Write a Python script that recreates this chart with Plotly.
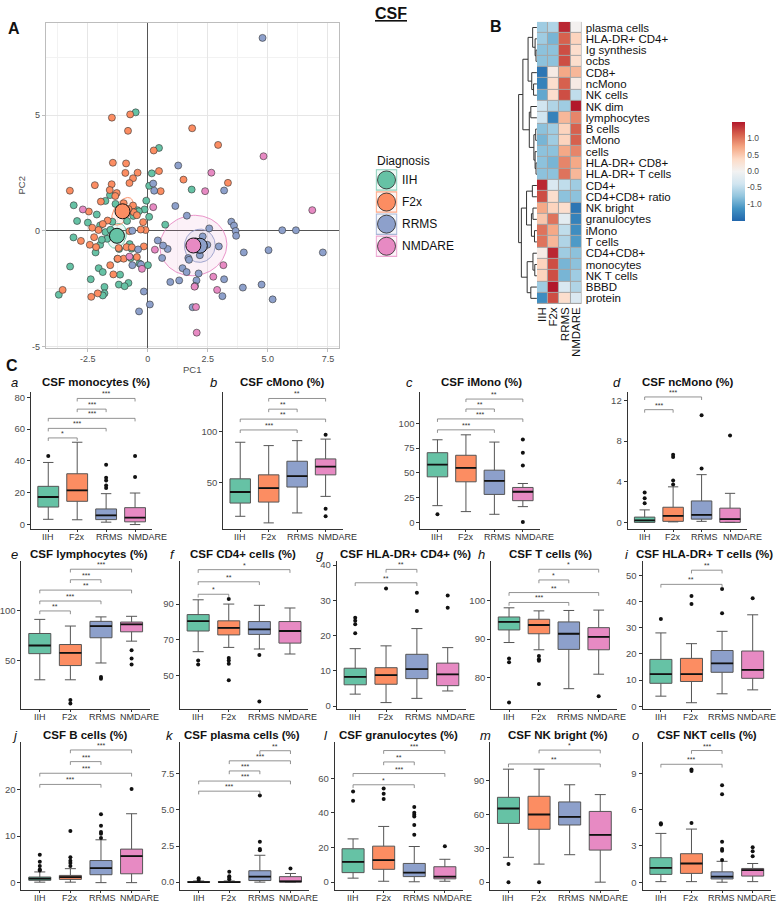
import numpy as np
import plotly.graph_objects as go

W, H = 778, 906
FONT = "Liberation Sans, Arial, Helvetica, sans-serif"

GROUPS = ["IIH", "F2x", "RRMS", "NMDARE"]
COLORS = ["#66C2A5", "#FC8D62", "#8DA0CB", "#E78AC3"]

# ---------------- Panel A: PCA scores ----------------
iih_pc1 = [-0.5, 0.47, 0.17, 0.06, 1.83, -1.57, -1.76, -1.34, -3.08, -2.12, -0.06, -0.13, -0.43, -0.53,
           0.06, 0.73, -2.94, -2.49, -1.98, -1.47, -0.86, -1.76, -1.69, -1.98, -1.91, -2.17, -3.09, -1.19,
           -1.26, -0.75, -0.67, -0.71, -0.34, 0.01, -3.23, -2.04, -1.87, -2.37, -1.15, -0.8, -1.2, -0.96,
           -1.8, -1.8, -1.87, -3.7, -1.4, -1.55, -0.6, -0.37]
iih_pc2 = [5.13, 3.59, 2.49, 1.95, 1.79, 1.55, 1.3, 1.17, 1.11, 0.71, 1.31, 0.93, 0.9, 0.75,
           0.61, 0.27, 0.43, 0.36, 0.24, 0.4, 0.43, -0.05, -0.34, -0.6, -0.38, -0.93, -0.28, -0.78,
           -1.21, -0.57, -0.77, -1.17, -1.41, -1.48, -1.54, -1.61, -1.78, -2.09, -1.89, -2.25, -2.32, -2.39,
           -2.42, -2.7, -2.79, -2.76, -0.2, 0.05, 0.65, 0.85]
f2x_pc1 = [-1.49, -0.73, -0.82, 1.85, 2.93, 0.25, 0.47, -1.45, -0.9, -0.93, -0.42, -0.61, -0.76, 1.49,
           3.34, 0.54, -2.2, -1.5, -3.24, -1.58, -1.29, -1.35, -1.95, -2.45, -0.61, -0.58, -0.91, -0.19,
           -0.09, -0.29, -0.45, -1.67, -1.87, -2.05, -2.31, -2.78, -2.23, -2.41, -2.15, -1.21, -0.88, -0.66,
           -0.16, -1.56, -1.43, -1.0, -1.25, -0.45, -3.54, -2.35, -2.08, -0.76, -1.0, -0.8]
f2x_pc2 = [4.9, 5.04, 4.33, 4.44, 3.72, 3.48, 2.59, 2.95, 2.92, 2.51, 2.52, 2.28, 2.07, 2.22,
           2.08, 1.72, 1.98, 2.02, 1.74, 1.77, 1.64, 1.51, 1.27, 0.84, 1.1, 0.81, 0.75, 0.38,
           0.04, 0.06, 0.68, 0.45, 0.3, 0.04, 0.14, -0.43, -0.27, -0.6, -0.7, -0.74, -0.7, -0.71,
           -0.67, -1.48, -1.88, -1.2, -1.2, -1.13, -2.55, -2.85, -2.7, -0.01, 1.2, 0.95]
rrms_pc1 = [4.78, 1.27, 0.23, 0.27, 3.18, 1.15, 1.63, 2.56, 3.48, 3.59, 3.66, 3.68, 5.6, 6.17,
            7.29, 5.03, 4.0, 2.96, 2.29, 2.48, 2.17, 1.69, 1.72, 0.6, 0.83, 0.64, 0.42, -0.64,
            -0.4, -0.64, -0.28, 1.45, 1.62, 2.12, 2.03, 1.97, 1.31, 0.94, 3.18, 3.11, 3.96, 4.74,
            5.2, -0.16, 0.09, -0.36, 1.87, 2.0]
rrms_pc2 = [8.35, 2.83, 2.05, 1.74, 1.75, 1.08, 0.66, 0.11, 0.4, 0.23, 0.0, -0.21, 0.03, 0.03,
            -0.93, -0.83, -0.93, -0.67, -0.24, -0.6, -1.05, -1.17, -1.25, -1.17, -0.78, -0.63, -0.41, 0.01,
            -0.8, -1.48, -1.45, -1.61, -1.78, -1.84, -2.14, -2.38, -2.14, -2.21, -2.09, -2.82, -2.45, -2.32,
            -2.96, -2.62, -3.18, -3.48, -3.3, -0.45]
nmdare_pc1 = [4.82, 2.65, 2.39, 6.85, 0.23, -2.7, 0.3, -0.76, -0.24, 3.15, 2.73, 2.89, 1.95, 2.01, 2.04]
nmdare_pc2 = [3.23, 2.52, 1.72, 0.9, 1.03, 0.93, -0.81, -1.11, -1.64, -1.48, -1.98, -2.55, -2.41, -3.29, -4.4]

pc_mean_x = [-1.28, -1.05, 2.17, 1.90]
pc_mean_y = [-0.21, 0.85, -0.64, -0.63]
ell_major = [0.55, 0.66, 0.72, 1.40]
ell_minor = [0.38, 0.35, 0.64, 1.30]
ell_angle = [75, 60, 85, 15]

# ---------------- Panel B: heatmap ----------------
heat_rows = ["plasma cells", "HLA-DR+ CD4+", "Ig synthesis", "ocbs", "CD8+", "ncMono", "NK cells",
             "NK dim", "lymphocytes", "B cells", "cMono", "cells", "HLA-DR+ CD8+", "HLA-DR+ T cells",
             "CD4+", "CD4+CD8+ ratio", "NK bright", "granulocytes", "iMono", "T cells", "CD4+CD8+",
             "monocytes", "NK T cells", "BBBD", "protein"]
heat_iih = [-0.7, -0.7, -0.8, -0.8, -1.4, -1.3, -1.0, -0.4, -0.4, -0.8, -0.9, -0.8, -0.8, -0.8,
            1.4, 1.2, 0.7, 0.5, 1.0, 1.0, 0.1, 0.4, 0.4, -0.7, -1.2]
heat_f2x = [-0.6, -0.9, -0.8, -0.8, 0.1, 0.3, 0.3, -0.6, -1.3, -0.7, -0.7, -0.8, -0.9, -0.8,
            -0.3, 0.3, 0.4, 1.0, 0.7, 0.6, 1.4, 1.2, 1.2, 1.5, 1.2]
heat_rrms = [1.4, 1.1, 1.2, 1.2, 0.7, 1.1, 1.2, -0.7, 0.6, 0.4, 0.4, 0.7, 0.9, 1.0,
             -0.5, -0.8, 0.3, -0.2, -0.5, -0.6, -0.7, -0.9, -0.9, -0.3, 0.3]
heat_nmdare = [0.0, 0.4, 0.3, 0.3, 0.6, 0.1, -0.5, 1.5, 0.9, 1.1, 1.1, 0.9, 0.7, 0.6,
               -0.7, -0.8, -1.4, -1.3, -1.2, -1.1, -0.8, -0.8, -0.7, -0.6, -0.3]
# row clustering: (left, right, height), leaves are row indices
dendro_tree = (
    (((0, (1, (2, 3, 0.3), 0.6), 1.4), (4, (5, 6, 1.1), 1.7), 2.9),
     ((7, 8, 2.0), ((9, 10, 0.4), (11, (12, 13, 0.3), 0.6), 1.0), 2.5), 4.6),
    (((14, 15, 1.5), ((16, 17, 1.3), (18, 19, 0.8), 1.8), 3.4),
     ((20, (21, 22, 0.7), 1.3), (23, 24, 2.0), 3.2), 5.1),
    6.0)

# ---------------- Panel C: box plot summaries ----------------
monocytes = dict(lo=[3.3, 3.0, 1.5, 0.0], q1=[11.0, 14.6, 3.1, 1.7], med=[17.3, 21.5, 5.8, 4.4],
                 q3=[24.0, 31.9, 9.8, 10.6], hi=[39.0, 51.7, 19.4, 19.8],
                 out=[[43.0], [], [37.5, 29.4, 27.7, 24.6, 23.0], [43.0, 29.8]],
                 sig=[("IIH", "F2x", 54.4, "*"), ("IIH", "RRMS", 60.4, "***"), ("IIH", "NMDARE", 66.7, "***"),
                      ("F2x", "RRMS", 72.5, "***"), ("F2x", "NMDARE", 79.2, "***")])
cmono = dict(lo=[17, 10.5, 20.3, 36.6], q1=[30, 31, 45.8, 57.8], med=[40.9, 44.8, 56.5, 66],
             q3=[53.9, 57.8, 71.2, 73.5], hi=[89.9, 86.6, 91.5, 93],
             out=[[], [], [], [97.4, 24.5, 17]],
             sig=[("IIH", "RRMS", 102, "***"), ("IIH", "NMDARE", 112.7, "**"),
                  ("F2x", "RRMS", 122.5, "**"), ("F2x", "NMDARE", 133, "**")])
imono = dict(lo=[17, 11, 8.3, 16], q1=[46, 41, 28.3, 22], med=[58.3, 55, 42, 31],
             q3=[70.3, 67.7, 52.7, 35.3], hi=[83.3, 88.3, 81, 39.3],
             out=[[8.3], [], [], [83.6, 70.3, 57.3, 0.5]],
             sig=[("IIH", "RRMS", 93.3, "***"), ("IIH", "NMDARE", 104.3, "***"),
                  ("F2x", "RRMS", 114.3, "**"), ("F2x", "NMDARE", 124.3, "**")])
ncmono = dict(lo=[0, 0.05, 0.1, 0], q1=[0, 0.1, 0.32, 0], med=[0.2, 0.65, 0.74, 0.33],
              q3=[0.52, 1.49, 2.11, 1.4], hi=[1.23, 3.5, 4.7, 2.86],
              out=[[2.95, 2.37, 1.88], [6.66, 6.44, 4.13, 3.74], [10.56, 5.3], [8.55]],
              sig=[("IIH", "F2x", 11.1, "***"), ("IIH", "RRMS", 12.35, "***")])
lymphocytes = dict(lo=[30.7, 30.7, 47.6, 69.6], q1=[57, 45, 73, 79], med=[65.2, 57.8, 84.8, 86.5],
                   q3=[77.3, 66.2, 89.5, 88.8], hi=[91.5, 84.8, 94, 94.6],
                   out=[[], [10.4, 6.8], [33.4, 31.8], [60.5, 52, 46]],
                   sig=[("IIH", "F2x", 100, "**"), ("IIH", "RRMS", 110, "***"), ("IIH", "NMDARE", 121, "**"),
                        ("F2x", "RRMS", 131.4, "***"), ("F2x", "NMDARE", 142, "***")])
cd4 = dict(lo=[63.3, 65.7, 64.8, 62], q1=[74.9, 72.7, 73, 68.1], med=[80.4, 76.6, 75.8, 74.9],
           q3=[84.1, 80.6, 80.2, 80.2], hi=[92.4, 90, 89.3, 87.8],
           out=[[58.3, 56.1], [92.8, 59.8, 58.3, 56.5, 47.3], [61.4, 35.3], []],
           sig=[("IIH", "F2x", 95.5, "*"), ("IIH", "RRMS", 102.5, "**"), ("IIH", "NMDARE", 109.3, "*")])
hladr_cd4 = dict(lo=[3.4, 1, 2.2, 4.3], q1=[6.05, 6.2, 7.8, 5.8], med=[8.3, 8.8, 10.5, 9],
                 q3=[10.75, 10.9, 14.7, 12.2], hi=[16.3, 17.1, 22, 16.6],
                 out=[[25.1, 24.2, 23.2, 20.7], [33.4], [32.2, 27], [31.4, 27.9]],
                 sig=[("IIH", "RRMS", 35, "**"), ("F2x", "RRMS", 38.8, "**")])
tcells = dict(lo=[89.1, 87.2, 77, 80.8], q1=[92.4, 91.4, 87.3, 87.2], med=[94.5, 93.7, 91.4, 90.6],
              q3=[95.8, 95.2, 94.5, 93], hi=[98.2, 97.4, 97.5, 97.6],
              out=[[84.9, 83.9, 73.4], [85.6, 84.7, 84.3, 78.2], [], [75]],
              sig=[("IIH", "RRMS", 99.6, "***"), ("IIH", "NMDARE", 102.2, "**"),
                   ("F2x", "RRMS", 105.5, "*"), ("F2x", "NMDARE", 108.3, "*")])
hladr_t = dict(lo=[3.9, 1.4, 4.8, 6.3], q1=[8.8, 9.5, 13, 10.7], med=[12.3, 12.3, 16.4, 13.9],
               q3=[17.9, 18.3, 21.3, 21.1], hi=[28, 23.9, 28.6, 34.9],
               out=[[33.3], [42.1, 39], [44.7, 35.5], [41.2]],
               sig=[("IIH", "RRMS", 46.5, "**"), ("F2x", "RRMS", 51.9, "**")])
bcells = dict(lo=[0.1, 0.1, 0, 0], q1=[0.5, 0.7, 1.7, 1.9], med=[0.85, 1.2, 3.1, 5.7],
              q3=[1.2, 1.55, 4.75, 7.2], hi=[2.3, 3.0, 9.2, 14.8],
              out=[[6.0, 4.5, 3.6, 2.8, 2.6], [11.1, 5.45, 4.7, 4.2, 3.6], [14.7, 12.2, 10.9, 10.5, 9.6], [20.1]],
              sig=[("IIH", "RRMS", 21.1, "***"), ("IIH", "NMDARE", 23.5, "***"),
                   ("F2x", "RRMS", 26, "***"), ("F2x", "NMDARE", 28.5, "***")])
plasma = dict(lo=[0, 0, 0, 0], q1=[0, 0, 0.11, 0], med=[0, 0, 0.38, 0.05],
              q3=[0.03, 0.03, 0.79, 0.38], hi=[0.08, 0.08, 1.86, 0.6],
              out=[[0.27, 0.15], [0.72, 0.4, 0.3, 0.2], [6.0, 2.8, 2.3, 2.2], [0.95]],
              sig=[("IIH", "RRMS", 6.3, "***"), ("IIH", "NMDARE", 7.0, "***"), ("F2x", "RRMS", 7.7, "***"),
                   ("F2x", "NMDARE", 8.4, "***"), ("RRMS", "NMDARE", 9.1, "**")])
granulocytes = dict(lo=[2.3, 0.5, 0.2, 0.5], q1=[5.5, 7.4, 3.2, 1.9], med=[11.7, 12.7, 5.5, 3.2],
                    q3=[19.3, 20.8, 10.8, 8.9], hi=[25, 32.2, 20.6, 13.2],
                    out=[[52.4, 47.1], [54.1, 51.1, 48.1], [43.4, 40.1, 39, 37.9, 33.1, 27.4], [20.8]],
                    sig=[("IIH", "RRMS", 56.3, "*"), ("IIH", "NMDARE", 62.8, "***"),
                         ("F2x", "RRMS", 69.5, "**"), ("F2x", "NMDARE", 76.1, "***")])
nk_bright = dict(lo=[22, 16, 24.3, 0], q1=[52, 46.8, 50.6, 28.4], med=[65.2, 59.9, 57.8, 41.8],
                 q3=[75.1, 76, 71, 62.6], hi=[100, 100, 86.2, 77.5],
                 out=[[16.1, 0], [0], [], []],
                 sig=[("IIH", "NMDARE", 104.6, "**"), ("F2x", "NMDARE", 116.9, "*")])
nkt = dict(lo=[0.05, 0.05, 0, 0.05], q1=[0.65, 0.73, 0.27, 0.51], med=[1.19, 1.55, 0.46, 1.0],
           q3=[2.03, 2.36, 0.86, 1.14], hi=[4.04, 4.4, 1.73, 1.55],
           out=[[4.88, 4.78], [9.33, 9.2, 4.9], [8.03, 7.29, 3.36, 2.76, 2.6, 1.85], [2.9, 2.57, 2.16]],
           sig=[("IIH", "RRMS", 9.76, "***"), ("F2x", "RRMS", 10.9, "***")])


def rgba(hexc, a):
    h = hexc.lstrip("#")
    return f"rgba({int(h[0:2], 16)},{int(h[2:4], 16)},{int(h[4:6], 16)},{a})"


def axis_names(n):
    if n == 1:
        return "xaxis", "yaxis", "x", "y"
    return f"xaxis{n}", f"yaxis{n}", f"x{n}", f"y{n}"


traces = []
annotations = []
shapes = []
layout = dict(
    width=W, height=H,
    margin=dict(l=0, r=0, t=0, b=0),
    paper_bgcolor="white",
    plot_bgcolor="white",
    showlegend=False,
    font=dict(family=FONT, color="#222"),
)


def set_axes(n, xpx, ypx, xkw, ykw):
    xa, ya, xr, yr = axis_names(n)
    layout[xa] = dict(domain=[xpx[0] / W, xpx[1] / W], anchor=yr, **xkw)
    layout[ya] = dict(domain=[1 - ypx[1] / H, 1 - ypx[0] / H], anchor=xr, **ykw)
    return xr, yr


def text(x, y, s, size, **kw):
    annotations.append(dict(x=x / W, y=1 - y / H, xref="paper", yref="paper", text=s,
                            showarrow=False, font=dict(size=size, family=FONT, color=kw.pop("color", "#111")),
                            **kw))


# ---------------- Panel A ----------------
xr, yr = set_axes(
    1, (43, 337), (21, 348),
    dict(range=[-4.24, 7.95], tickvals=[-2.5, 0, 2.5, 5, 7.5], ticktext=["-2.5", "0", "2.5", "5.0", "7.5"],
         showgrid=True, gridcolor="#E6E6E6", gridwidth=0.8,
         minor=dict(dtick=1.25, tick0=0, showgrid=True, gridcolor="#F2F2F2", gridwidth=0.6),
         zeroline=True, zerolinecolor="#555", zerolinewidth=1,
         showline=True, mirror=True, linecolor="#BDBDBD", linewidth=1,
         ticks="outside", ticklen=3, tickcolor="#BDBDBD",
         tickfont=dict(size=9, color="#4D4D4D"),
         title=dict(text="PC1", font=dict(size=9.5, color="#4D4D4D"), standoff=0)),
    dict(range=[-5.05, 9.0], tickvals=[-5, 0, 5], ticktext=["-5", "0", "5"],
         showgrid=True, gridcolor="#E6E6E6", gridwidth=0.8,
         minor=dict(dtick=2.5, tick0=0, showgrid=True, gridcolor="#F2F2F2", gridwidth=0.6),
         zeroline=True, zerolinecolor="#555", zerolinewidth=1,
         showline=True, mirror=True, linecolor="#BDBDBD", linewidth=1,
         ticks="outside", ticklen=3, tickcolor="#BDBDBD",
         tickfont=dict(size=9, color="#4D4D4D"),
         title=dict(text="PC2", font=dict(size=9.5, color="#4D4D4D"), standoff=4)),
)

t = np.linspace(0, 2 * np.pi, 120)
for gi in range(4):
    ang = np.deg2rad(ell_angle[gi])
    a, b = ell_major[gi], ell_minor[gi]
    ex = pc_mean_x[gi] + a * np.cos(t) * np.cos(ang) - b * np.sin(t) * np.sin(ang)
    ey = pc_mean_y[gi] + a * np.cos(t) * np.sin(ang) + b * np.sin(t) * np.cos(ang)
    traces.append(go.Scatter(x=ex, y=ey, mode="lines", fill="toself",
                             fillcolor=rgba(COLORS[gi], 0.12),
                             line=dict(color=rgba(COLORS[gi], 0.9), width=1),
                             xaxis=xr, yaxis=yr, hoverinfo="skip"))

pc_points = [(iih_pc1, iih_pc2), (f2x_pc1, f2x_pc2), (rrms_pc1, rrms_pc2), (nmdare_pc1, nmdare_pc2)]
for gi, (px, py) in enumerate(pc_points):
    traces.append(go.Scatter(x=px, y=py, mode="markers", name=GROUPS[gi],
                             marker=dict(size=7, color=COLORS[gi], line=dict(color="#333", width=0.6)),
                             xaxis=xr, yaxis=yr))
for gi in range(4):
    traces.append(go.Scatter(x=[pc_mean_x[gi]], y=[pc_mean_y[gi]], mode="markers",
                             marker=dict(size=15, color=COLORS[gi], line=dict(color="#111", width=1)),
                             xaxis=xr, yaxis=yr, hoverinfo="skip"))

# legend for panel A
xr, yr = set_axes(4, (374, 396), (168, 257),
                  dict(range=[-0.5, 0.5], visible=False), dict(range=[3.5, -0.5], visible=False))
for gi in range(4):
    shapes.append(dict(type="rect", xref=xr, yref=yr, x0=-0.47, x1=0.47, y0=gi - 0.46, y1=gi + 0.46,
                       line=dict(color=rgba(COLORS[gi], 0.75), width=1.2),
                       fillcolor=rgba(COLORS[gi], 0.1), layer="below"))
    annotations.append(dict(x=0.5, y=gi, xref=xr, yref=yr, text=GROUPS[gi], showarrow=False,
                            xanchor="left", yanchor="middle", xshift=3,
                            font=dict(size=12, family=FONT, color="#111")))
traces.append(go.Scatter(x=[0, 0, 0, 0], y=[0, 1, 2, 3], mode="markers",
                         marker=dict(size=18, color=COLORS, line=dict(color="#222", width=0.8)),
                         xaxis=xr, yaxis=yr, hoverinfo="skip"))
text(373, 160, "Diagnosis", 12, xanchor="left", yanchor="middle")

# ---------------- Panel B: heatmap + dendrogram ----------------
heat_z = [list(r) for r in zip(heat_iih, heat_f2x, heat_rrms, heat_nmdare)]
xr, yr = set_axes(
    2, (536, 581), (20, 304),
    dict(range=[-0.5, 3.5], tickvals=[0, 1, 2, 3], ticktext=GROUPS, tickangle=-90,
         showgrid=False, zeroline=False, ticks="", tickfont=dict(size=11.5, color="#111")),
    dict(range=[24.5, -0.5], tickvals=list(range(25)), ticktext=heat_rows, side="right",
         showgrid=False, zeroline=False, ticks="", ticklabelstandoff=3,
         tickfont=dict(size=11.5, color="#111")),
)
shapes.append(dict(type="rect", xref=xr, yref=yr, x0=-0.5, x1=3.5, y0=-0.5, y1=24.5,
                   fillcolor="#A6A6A6", line=dict(width=0), layer="below"))
rdbu = [[0.0, "#2166AC"], [0.125, "#4393C3"], [0.25, "#92C5DE"], [0.375, "#D1E5F0"], [0.5, "#F2F2F2"],
        [0.625, "#FDDBC7"], [0.75, "#F4A582"], [0.875, "#D6604D"], [1.0, "#B2182B"]]
traces.append(go.Heatmap(
    z=heat_z, x=[0, 1, 2, 3], y=list(range(25)), colorscale=rdbu, zmin=-1.53, zmax=1.48,
    xgap=1, ygap=1, xaxis=xr, yaxis=yr, hoverinfo="skip",
    colorbar=dict(x=722 / W, xanchor="left", y=1 - 171 / H, yanchor="middle", len=120 / H,
                  lenmode="fraction", thickness=13, outlinewidth=0, ticks="",
                  tickvals=[-1, -0.5, 0, 0.5, 1], ticktext=["-1.0", "-0.5", "0.0", "0.5", "1.0"],
                  tickfont=dict(size=8.5, color="#4D4D4D")),
))

dx, dy = [], []


def walk(node):
    if isinstance(node, int):
        return float(node), 0.0
    left, right, h = node
    yl, hl = walk(left)
    yr_, hr = walk(right)
    dx.extend([hl, h, h, hr, None])
    dy.extend([yl, yl, yr_, yr_, None])
    return (yl + yr_) / 2, h


walk(dendro_tree)
xr, yr = set_axes(3, (517, 536), (20, 304),
                  dict(range=[6.2, 0], visible=False), dict(range=[24.5, -0.5], visible=False))
traces.append(go.Scatter(x=dx, y=dy, mode="lines", line=dict(color="#333", width=1),
                         xaxis=xr, yaxis=yr, hoverinfo="skip"))

# ---------------- Panel C: box plots ----------------
ROWS_Y = [(393, 531, 383), (563, 712, 556), (745, 894, 738)]
# px nudge of category labels per row, as in the source figure
LABEL_SHIFT = [[0, 0, 3, 12], [0, 0, 2, 8], [0, 0, 2, 8]]
RIGHT_SHIFT = [0, 0, -1, 4]   # right-hand column has no room to spare
# (data, title, letter, x-domain px, row, y range, y ticks, tick text, letter x, title centre x)
panel_specs = [
    (monocytes, "CSF monocytes (%)", "a", (28, 150), 0, (-3.1, 83), [0, 20, 40, 60, 80], None, 12, 93),
    (cmono, "CSF cMono (%)", "b", (221, 341), 0, (4, 139), [50, 100], None, 211, 280),
    (imono, "CSF iMono (%)", "c", (419, 539), 0, (-7, 131), [0, 25, 50, 75, 100], None, 408, 480),
    (ncmono, "CSF ncMono (%)", "d", (627, 747), 0, (-0.7, 12.8), [0, 4, 8, 12], None, 616, 688),
    (lymphocytes, "CSF lymphocytes (%)", "e", (18.5, 147.5), 1, (1, 150), [50, 100], None, 12, 86),
    (cd4, "CSF CD4+ cells (%)", "f", (177.5, 306.5), 1, (31, 114), [50, 70, 90], None, 170, 241),
    (hladr_cd4, "CSF HLA-DR+ CD4+ (%)", "g", (335, 465), 1, (-0.9, 41.1), [0, 10, 20, 30, 40], None, 318, 404),
    (tcells, "CSF T cells (%)", "h", (490, 616), 1, (71.6, 110.4), [80, 90, 100], None, 480, 550),
    (hladr_t, "CSF HLA-DR+ T cells (%)", "i", (642, 771), 1, (-1.1, 55.3), [0, 10, 20, 30, 40, 50], None,
     626, 704),
    (bcells, "CSF B cells (%)", "j", (18.5, 147.5), 2, (-1.6, 30.2), [0, 10, 20], None, 12, 83),
    (plasma, "CSF plasma cells (%)", "k", (178, 307), 2, (-0.55, 9.7), [0, 2.5, 5, 7.5],
     ["0.0", "2.5", "5.0", "7.5"], 168, 240),
    (granulocytes, "CSF granulocytes (%)", "l", (333, 462), 2, (-4.6, 81), [0, 20, 40, 60], None, 324, 397),
    (nk_bright, "CSF NK bright (%)", "m", (489, 618), 2, (-7, 124), [0, 30, 60, 90], None, 484, 557),
    (nkt, "CSF NKT cells (%)", "o", (642, 771), 2, (-0.65, 11.6), [0, 3, 6, 9], None, 635, 707),
]

BOX_W = 0.72
for pi, (d, title, letter, xpx, row, yrange, yt, ytt, letter_x, title_x) in enumerate(panel_specs):
    n = 5 + pi
    y0, y1, ty = ROWS_Y[row]
    shift = LABEL_SHIFT[row] if xpx[1] < 760 else RIGHT_SHIFT
    xr, yr = set_axes(
        n, xpx, (y0, y1),
        dict(range=[0.4, 4.6], tickvals=[1, 2, 3, 4], showticklabels=False,
             showgrid=False, zeroline=False,
             showline=True, linecolor="#333", linewidth=1, ticks="outside", ticklen=2, tickcolor="#333"),
        dict(range=list(yrange), tickvals=yt, ticktext=ytt if ytt else [str(v) for v in yt],
             showgrid=False, zeroline=False, showline=True, linecolor="#333", linewidth=1,
             ticks="outside", ticklen=3, tickcolor="#333", tickfont=dict(size=9.5, color="#4D4D4D")),
    )
    ya_key = axis_names(n)[1]
    for gi in range(4):
        traces.append(go.Box(
            x=[gi + 1], q1=[d["q1"][gi]], median=[d["med"][gi]], q3=[d["q3"][gi]],
            lowerfence=[d["lo"][gi]], upperfence=[d["hi"][gi]], width=BOX_W,
            fillcolor=COLORS[gi], line=dict(color="#555", width=1), boxpoints=False,
            xaxis=xr, yaxis=yr, hoverinfo="skip"))
        annotations.append(dict(x=gi + 1, y=layout[ya_key]["domain"][0], xref=xr, yref="paper",
                                text=GROUPS[gi], showarrow=False, xanchor="center", yanchor="top",
                                xshift=shift[gi], yshift=-1,
                                font=dict(size=9, family=FONT, color="#333")))
    mx, my = [], []
    for gi in range(4):
        mx += [gi + 1 - BOX_W / 2, gi + 1 + BOX_W / 2, None]
        my += [d["med"][gi], d["med"][gi], None]
    traces.append(go.Scatter(x=mx, y=my, mode="lines", line=dict(color="#111", width=1.8),
                             xaxis=xr, yaxis=yr, hoverinfo="skip"))
    ox, oy = [], []
    for gi in range(4):
        ox += [gi + 1] * len(d["out"][gi])
        oy += d["out"][gi]
    traces.append(go.Scatter(x=ox, y=oy, mode="markers", marker=dict(size=4, color="#111"),
                             xaxis=xr, yaxis=yr, hoverinfo="skip"))
    tip = 0.022 * (yrange[1] - yrange[0])
    bx, by = [], []
    for g1, g2, yv, lab in d["sig"]:
        a = GROUPS.index(g1) + 1
        b = GROUPS.index(g2) + 1
        bx += [a, a, b, b, None]
        by += [yv - tip, yv, yv, yv - tip, None]
        annotations.append(dict(x=(a + b) / 2, y=yv, xref=xr, yref=yr, text=lab, showarrow=False,
                                yanchor="bottom", yshift=-1, font=dict(size=7, family=FONT, color="#333")))
    traces.append(go.Scatter(x=bx, y=by, mode="lines", line=dict(color="#777", width=0.8),
                             xaxis=xr, yaxis=yr, hoverinfo="skip"))
    text(title_x, ty, f"<b>{title}</b>", 11.5, xanchor="center", yanchor="middle")
    text(letter_x, ty, f"<i>{letter}</i>", 13, xanchor="center", yanchor="middle")

# ---------------- labels ----------------
text(389, 12, "<b><u>CSF</u></b>", 16, xanchor="center", yanchor="middle")
text(11, 27, "<b>A</b>", 16, xanchor="center", yanchor="middle")
text(495, 25, "<b>B</b>", 16, xanchor="center", yanchor="middle")
text(9, 366, "<b>C</b>", 16, xanchor="center", yanchor="middle")

layout["annotations"] = annotations
layout["shapes"] = shapes

fig = go.Figure(data=traces, layout=layout)
# the page body has a default 8px margin; drop it so the figure fills the window exactly
fig.write_html("out.html", config={"displayModeBar": False},
               post_script="document.body.style.margin='0px';")
